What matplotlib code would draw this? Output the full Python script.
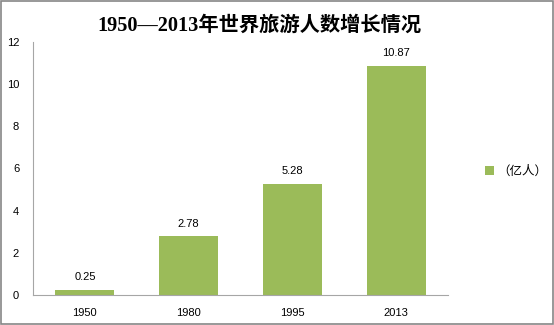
import matplotlib.pyplot as plt
from matplotlib.patches import Rectangle

plt.rcParams['font.family'] = ['Liberation Sans', 'Noto Sans CJK SC', 'DejaVu Sans']

years = ['1950', '1980', '1995', '2013']
tourists = [0.25, 2.78, 5.28, 10.87]
title = '1950—2013年世界旅游人数增长情况'
series_name = '（亿人）'

bar_color = '#9bbb59'
axis_color = '#a6a6a6'

fig = plt.figure(figsize=(5.54, 3.25), dpi=100)
ax = fig.add_axes([0.0596, 0.0923, 0.749, 0.7785])

x = range(len(years))
bars = ax.bar(x, tourists, width=0.57, color=bar_color, label=series_name)
for xi, v in zip(x, tourists):
    ax.text(xi, v + 0.35, f'{v:.2f}', ha='center', va='bottom', fontsize=8)

ax.set_xlim(-0.5, len(years) - 0.5)
ax.set_ylim(0, 12)
ax.set_yticks(range(0, 13, 2))
ax.set_xticks(list(x))
ax.set_xticklabels(years)
ax.tick_params(axis='both', length=0, labelsize=8)
ax.tick_params(axis='y', pad=10)
ax.tick_params(axis='x', pad=9)
for side in ['top', 'right']:
    ax.spines[side].set_visible(False)
for side in ['left', 'bottom']:
    ax.spines[side].set_color(axis_color)
    ax.spines[side].set_linewidth(0.8)

fig.text(259 / 554, 1 - 26 / 325, title, ha='center', va='center',
         fontsize=14.6, fontweight='bold',
         family=['Liberation Serif', 'Noto Sans CJK SC'])

fig.legend(handles=[bars], labels=[series_name], loc='center left',
           bbox_to_anchor=(474 / 554, 1 - 171 / 325), frameon=False,
           handlelength=0.7, handleheight=0.7, handletextpad=0.3,
           prop={'family': ['Noto Sans CJK SC'], 'size': 9})

# thin gray frame around the whole chart area
fig.patches.append(Rectangle((0.001, 0.002), 0.997, 0.995, transform=fig.transFigure,
                             fill=False, edgecolor='#868686', linewidth=1.2))

fig.savefig('out.png', dpi=100)
